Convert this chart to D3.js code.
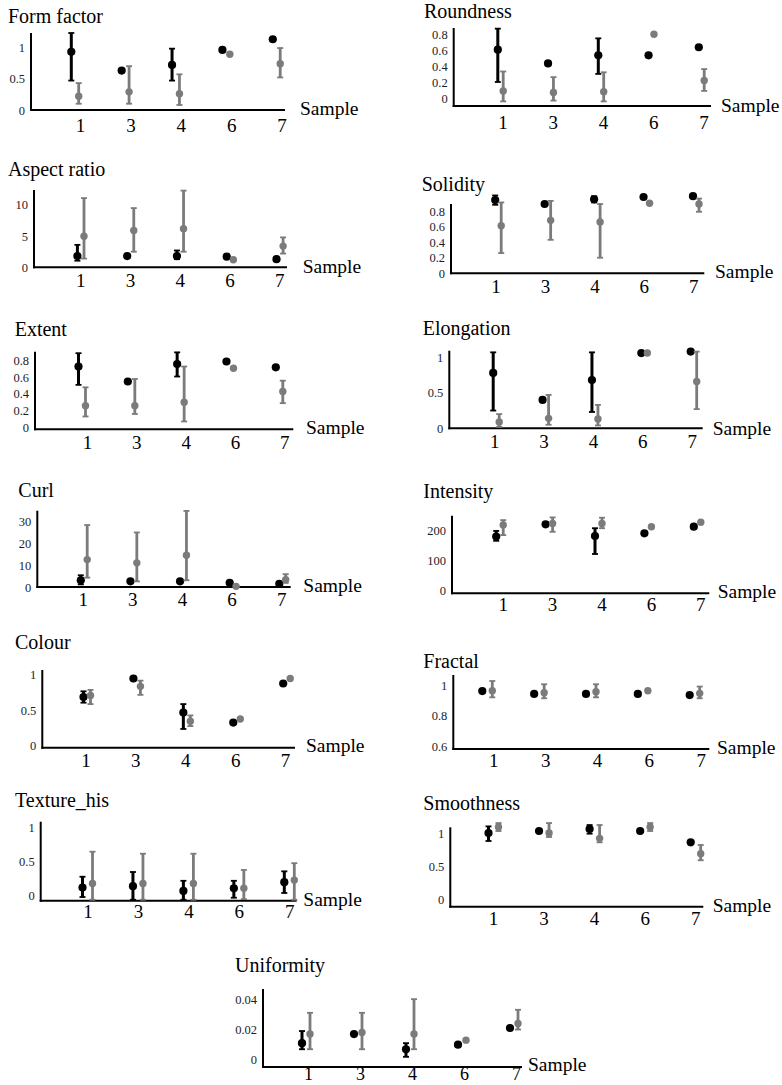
<!DOCTYPE html>
<html>
<head>
<meta charset="utf-8">
<script src="https://cdn.jsdelivr.net/npm/d3@7"></script>
<style>
  body { margin: 0; background: #fff; }
  svg { display: block; }
</style>
</head>
<body>
<svg id="fig" width="782" height="1085"></svg>
<script>
// Sample identifiers on every x axis
const samples = ["1", "3", "4", "6", "7"];

// Each entry: [mean, low, high]; low/high are null where no bar is shown.
// Series A = black markers, series B = grey markers.
const formFactorA = [[0.93, 0.47, 1.23], [0.63, null, null], [0.72, 0.47, 0.98], [0.96, null, null], [1.13, null, null]];
const formFactorB = [[0.22, 0.10, 0.43], [0.29, 0.10, 0.70], [0.26, 0.08, 0.57], [0.89, null, null], [0.74, 0.52, 0.99]];
const formFactorTicks = [0, 0.5, 1];

const roundnessA = [[0.61, 0.21, 0.87], [0.44, null, null], [0.54, 0.31, 0.75], [0.54, null, null], [0.64, null, null]];
const roundnessB = [[0.10, -0.03, 0.34], [0.08, -0.02, 0.27], [0.09, -0.03, 0.33], [0.80, null, null], [0.23, 0.10, 0.37]];
const roundnessTicks = [0, 0.2, 0.4, 0.6, 0.8];

const aspectRatioA = [[1.8, 1.06, 3.6], [1.8, null, null], [1.8, 1.3, 2.7], [1.7, null, null], [1.3, null, null]];
const aspectRatioB = [[5.0, 1.4, 11.1], [5.9, 2.5, 9.5], [6.2, 2.5, 12.3], [1.2, null, null], [3.4, 2.2, 4.8]];
const aspectRatioTicks = [0, 5, 10];

const solidityA = [[0.94, 0.88, 1.0], [0.89, null, null], [0.95, 0.91, 0.99], [0.98, null, null], [0.99, null, null]];
const solidityB = [[0.61, 0.26, 0.91], [0.68, 0.43, 0.93], [0.66, 0.20, 0.89], [0.90, null, null], [0.89, 0.79, 0.96]];
const solidityTicks = [0, 0.2, 0.4, 0.6, 0.8];

const extentA = [[0.73, 0.51, 0.89], [0.55, null, null], [0.76, 0.61, 0.90], [0.79, null, null], [0.72, null, null]];
const extentB = [[0.26, 0.13, 0.48], [0.26, 0.16, 0.58], [0.30, 0.07, 0.73], [0.71, null, null], [0.43, 0.29, 0.56]];
const extentTicks = [0, 0.2, 0.4, 0.6, 0.8];

const elongationA = [[0.78, 0.25, 1.07], [0.40, null, null], [0.68, 0.23, 1.07], [1.06, null, null], [1.08, null, null]];
const elongationB = [[0.09, 0.02, 0.20], [0.14, 0.05, 0.47], [0.13, 0.04, 0.33], [1.06, null, null], [0.66, 0.27, 1.08]];
const elongationTicks = [0, 0.5, 1];

const curlA = [[3.1, 1.2, 5.4], [2.6, null, null], [2.6, null, null], [1.9, null, null], [1.5, null, null]];
const curlB = [[12.6, 4.3, 28.5], [11.1, 2.6, 25.1], [14.6, 3.1, 35.0], [0.3, null, null], [3.4, 1.9, 5.9]];
const curlTicks = [0, 10, 20, 30];

const intensityA = [[178, 164, 197], [219, null, null], [180, 120, 206], [189, null, null], [211, null, null]];
const intensityB = [[217, 183, 233], [222, 194, 242], [222, 206, 241], [211, null, null], [226, null, null]];
const intensityTicks = [0, 100, 200];

const colourA = [[0.69, 0.61, 0.77], [0.95, null, null], [0.47, 0.24, 0.59], [0.33, null, null], [0.88, null, null]];
const colourB = [[0.71, 0.59, 0.79], [0.84, 0.72, 0.92], [0.35, 0.28, 0.43], [0.38, null, null], [0.95, null, null]];
const colourTicks = [0, 0.5, 1];

const fractalA = [[0.961, null, null], [0.942, null, null], [0.942, null, null], [0.942, null, null], [0.935, null, null]];
const fractalB = [[0.963, 0.920, 1.026], [0.950, 0.914, 1.005], [0.957, 0.920, 1.005], [0.963, null, null], [0.946, 0.914, 0.990]];
const fractalTicks = [0.6, 0.8, 1];

const textureA = [[0.11, -0.03, 0.27], [0.13, -0.07, 0.34], [0.06, -0.07, 0.21], [0.10, -0.04, 0.21], [0.19, 0.03, 0.35]];
const textureB = [[0.17, -0.07, 0.64], [0.17, -0.07, 0.61], [0.17, -0.07, 0.61], [0.10, -0.06, 0.37], [0.22, -0.07, 0.47]];
const textureTicks = [0, 0.5, 1];

const smoothnessA = [[1.00, 0.88, 1.10], [1.03, null, null], [1.06, 0.99, 1.12], [1.03, null, null], [0.86, null, null]];
const smoothnessB = [[1.09, 1.03, 1.15], [1.00, 0.94, 1.15], [0.92, 0.86, 1.12], [1.09, 1.03, 1.15], [0.69, 0.59, 0.82]];
const smoothnessTicks = [0, 0.5, 1];

const uniformityA = [[0.011, 0.007, 0.019], [0.017, null, null], [0.007, 0.002, 0.011], [0.010, null, null], [0.021, null, null]];
const uniformityB = [[0.017, 0.007, 0.031], [0.018, 0.007, 0.031], [0.017, 0.007, 0.040], [0.013, null, null], [0.024, 0.020, 0.033]];
const uniformityTicks = [0, 0.02, 0.04];

// Panel geometry: ax = y-axis x, yb/yt = axis bottom/top, xr = x-axis end,
// cx = first/last sample centre, dx = half gap between series, ls = label shift
const panels = [
  { name: "Form factor", a: formFactorA, b: formFactorB, ticks: formFactorTicks, domain: [0, 1.23],
    ax: 31, yb: 110, yt: 33, xr: 285, cx: [75, 276.5], dx: 3.7, ls: 5, title: [8, 22.5], tickY: 131.5, sample: [300, 115] },
  { name: "Roundness", a: roundnessA, b: roundnessB, ticks: roundnessTicks, domain: [-0.087, 0.878],
    ax: 453.7, yb: 106, yt: 28, xr: 711, cx: [500.5, 701.5], dx: 2.7, ls: 2, title: [424, 18], tickY: 128.5, sample: [721, 111.7] },
  { name: "Aspect ratio", a: aspectRatioA, b: aspectRatioB, ticks: aspectRatioTicks, domain: [0, 12.4],
    ax: 34, yb: 267.3, yt: 190, xr: 287, cx: [80.7, 279.8], dx: 3.3, ls: -0.5, title: [8, 176], tickY: 287.3, sample: [302.7, 273.3] },
  { name: "Solidity", a: solidityA, b: solidityB, ticks: solidityTicks, domain: [0, 0.89],
    ax: 451, yb: 273.3, yt: 204, xr: 704.3, cx: [498.2, 696], dx: 3, ls: -2.7, title: [421.7, 190.7], tickY: 293.3, sample: [715, 278.3] },
  { name: "Extent", a: extentA, b: extentB, ticks: extentTicks, domain: [-0.024, 0.908],
    ax: 35, yb: 429.3, yt: 351.7, xr: 293.3, cx: [82, 279.3], dx: 3.5, ls: 5, title: [14.7, 336], tickY: 449.3, sample: [306, 434] },
  { name: "Elongation", a: elongationA, b: elongationB, ticks: elongationTicks, domain: [0, 1.093],
    ax: 449.3, yb: 428.3, yt: 350.7, xr: 702.7, cx: [496.2, 693.7], dx: 3, ls: -2, title: [422.7, 335], tickY: 448.3, sample: [712.7, 435] },
  { name: "Curl", a: curlA, b: curlB, ticks: curlTicks, domain: [0, 35.1],
    ax: 37.3, yb: 587, yt: 510.7, xr: 290.7, cx: [84, 282.5], dx: 3.2, ls: -1.3, title: [18.3, 497.3], tickY: 606, sample: [303.3, 591.7] },
  { name: "Intensity", a: intensityA, b: intensityB, ticks: intensityTicks, domain: [-11, 247.7],
    ax: 452, yb: 593.3, yt: 515.7, xr: 709.3, cx: [499.7, 697.3], dx: 3.5, ls: 3, title: [423.3, 498.3], tickY: 611, sample: [717.7, 597.7] },
  { name: "Colour", a: colourA, b: colourB, ticks: colourTicks, domain: [-0.024, 1.07],
    ax: 42.3, yb: 747.7, yt: 670, xr: 295, cx: [87, 286.7], dx: 3.5, ls: -1.6, title: [15, 649.3], tickY: 766.7, sample: [306, 752.3] },
  { name: "Fractal", a: fractalA, b: fractalB, ticks: fractalTicks, domain: [0.585, 1.065],
    ax: 453.3, yb: 749, yt: 675, xr: 709.3, cx: [487.3, 694.7], dx: 5, ls: 6, title: [423.3, 668.3], tickY: 767.3, sample: [717, 754] },
  { name: "Texture_his", a: textureA, b: textureB, ticks: textureTicks, domain: [-0.084, 1.083],
    ax: 40.7, yb: 900.7, yt: 821.7, xr: 296.7, cx: [87.5, 289.3], dx: 5, ls: 0, title: [15, 806.7], tickY: 918.3, sample: [303.3, 906] },
  { name: "Smoothness", a: smoothnessA, b: smoothnessB, ticks: smoothnessTicks, domain: [-0.108, 1.086],
    ax: 450.3, yb: 906.7, yt: 827.3, xr: 703.3, cx: [493.5, 695.7], dx: 5, ls: -0.5, title: [423.3, 810], tickY: 925, sample: [712.7, 911.7] },
  { name: "Uniformity", a: uniformityA, b: uniformityB, ticks: uniformityTicks, domain: [-0.0047, 0.0467],
    ax: 263, yb: 1067, yt: 989, xr: 522, cx: [306, 514], dx: 4, ls: 2, title: [235, 972], tickY: 1080, sample: [528, 1071], xfs: 18 }
];

const SERIF = "'Liberation Serif', 'Times New Roman', serif";
const styles = [
  { key: "a", sign: -1, color: "#000000", r: 4.1, w: 3 },
  { key: "b", sign: 1, color: "#7b7b7b", r: 3.7, w: 2.8 }
];

const svg = d3.select("#fig");

panels.forEach(p => {
  const g = svg.append("g").attr("class", "panel");
  const x = d3.scalePoint().domain(samples).range(p.cx);
  const y = d3.scaleLinear().domain(p.domain).range([p.yb, p.yt]);

  g.append("text")
    .attr("x", p.title[0]).attr("y", p.title[1])
    .attr("font-family", SERIF).attr("font-size", 20)
    .text(p.name);

  // axis frame
  g.append("line")
    .attr("x1", p.ax).attr("x2", p.ax).attr("y1", p.yt).attr("y2", p.yb + 1)
    .attr("stroke", "#000").attr("stroke-width", 2);
  g.append("line")
    .attr("x1", p.ax - 1).attr("x2", p.xr).attr("y1", p.yb).attr("y2", p.yb)
    .attr("stroke", "#000").attr("stroke-width", 2);

  // y tick labels
  const ya = g.append("g")
    .attr("transform", `translate(${p.ax},0)`)
    .call(d3.axisLeft(y).tickValues(p.ticks).tickSize(0).tickPadding(6).tickFormat(d => String(d)));
  ya.select(".domain").remove();
  ya.attr("font-family", SERIF).attr("font-size", 12.5);
  ya.selectAll("text").attr("fill", "#1c1c2a");

  // x tick labels
  const xa = g.append("g")
    .attr("transform", `translate(${p.ls},${p.tickY})`)
    .call(d3.axisBottom(x).tickSize(0).tickPadding(0));
  xa.select(".domain").remove();
  xa.attr("font-family", SERIF).attr("font-size", p.xfs || 19);
  xa.selectAll("text").attr("y", 0).attr("dy", 0).attr("fill", "#000");

  g.append("text")
    .attr("x", p.sample[0]).attr("y", p.sample[1])
    .attr("font-family", SERIF).attr("font-size", 19.5)
    .text("Sample");

  // markers with error bars
  styles.forEach(s => {
    const sg = g.append("g").attr("fill", s.color).attr("stroke", s.color);
    p[s.key].forEach((d, i) => {
      const cx = x(samples[i]) + s.sign * p.dx;
      if (d[1] !== null) {
        const y1 = y(d[1]), y2 = y(d[2]);
        sg.append("line").attr("x1", cx).attr("x2", cx).attr("y1", y1).attr("y2", y2)
          .attr("stroke-width", s.w);
        [y1, y2].forEach(yy => {
          sg.append("line").attr("x1", cx - 3).attr("x2", cx + 3).attr("y1", yy).attr("y2", yy)
            .attr("stroke-width", 1.8);
        });
      }
      sg.append("circle").attr("cx", cx).attr("cy", y(d[0])).attr("r", s.r).attr("stroke", "none");
    });
  });
});
</script>
</body>
</html>
